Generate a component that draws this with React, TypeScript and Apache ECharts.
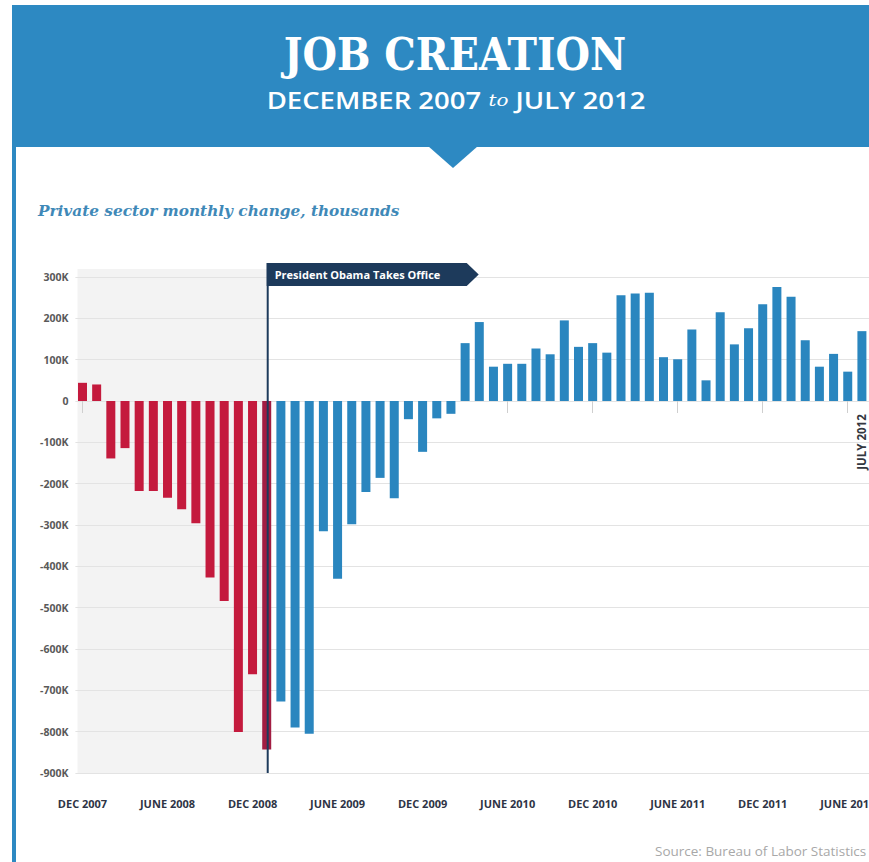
import React, { useEffect, useRef } from "react";
import * as echarts from "echarts";

// ---- data ----
const MONTHS = ["JAN", "FEB", "MAR", "APR", "MAY", "JUNE", "JULY", "AUG", "SEP", "OCT", "NOV", "DEC"];
const categories: string[] = [
  "DEC 2007",
  ...[2008, 2009, 2010, 2011].flatMap((y) => MONTHS.map((m) => `${m} ${y}`)),
  ...MONTHS.slice(0, 7).map((m) => `${m} 2012`),
];
// Private sector monthly change, thousands (Dec 2007 .. Jul 2012)
const privateChange: number[] = [
  44, 40, -139, -114, -218, -218, -234, -262, -296, -427, -484, -801, -661, -843,
  -727, -790, -805, -315, -430, -298, -220, -186, -235, -44, -123, -42, -31,
  140, 191, 83, 90, 90, 127, 113, 195, 131, 140, 117, 256, 260, 262, 106, 101, 173,
  50, 215, 137, 176, 234, 276, 252, 147, 83, 114, 71, 169,
];
const obamaCategory = "JAN 2009";
const lastCategory = "JULY 2012";
const yTicks = { min: -900, max: 300, interval: 100 };

// ---- styles ----
const HEADER_BLUE = "#2d89c2";
const BAR_RED = "#c41a3d";
const BAR_RED_DARK = "#a21d42";
const BAR_BLUE = "#2a86bf";
const NAVY = "#1d3a5b";
const SANS = "'Open Sans', 'Noto Sans', sans-serif";

export default function App() {
  const ref = useRef<HTMLDivElement>(null);

  useEffect(() => {
    const el = ref.current;
    if (!el) return;
    const chart = echarts.init(el, null, { renderer: "svg" });
    const obamaIdx = categories.indexOf(obamaCategory);

    const redData = privateChange.map((v, i) =>
      i < obamaIdx ? v : i === obamaIdx ? { value: v, itemStyle: { color: BAR_RED_DARK } } : "-"
    );
    const blueData = privateChange.map((v, i) => (i > obamaIdx ? v : "-"));

    chart.setOption({
      animation: false,
      backgroundColor: "#ffffff",
      grid: { left: 75.4, right: 0, top: 277, bottom: 89, outerBoundsMode: "none", containLabel: false },
      xAxis: {
        type: "category",
        data: categories,
        boundaryGap: true,
        axisLine: { show: false },
        axisTick: {
          show: true,
          interval: 5,
          alignWithLabel: true,
          length: 12,
          lineStyle: { color: "#cfcfcf", width: 1 },
        },
        axisLabel: {
          interval: 5,
          margin: 25,
          fontFamily: SANS,
          fontWeight: "bold",
          fontSize: 11,
          color: "#2e3445",
        },
        splitLine: { show: false },
      },
      yAxis: {
        type: "value",
        min: yTicks.min,
        max: yTicks.max,
        interval: yTicks.interval,
        axisLine: { show: false },
        axisTick: { show: false },
        axisLabel: {
          margin: 7,
          fontFamily: SANS,
          fontWeight: "bold",
          fontSize: 10.5,
          color: "#5a5a5a",
          formatter: (v: number) => (v === 0 ? "0" : `${v}K`),
        },
        splitLine: { show: true, lineStyle: { color: "#e3e3e3", width: 1 } },
      },
      series: [
        {
          name: "Before",
          type: "bar",
          data: redData,
          barWidth: 9,
          barGap: "-100%",
          itemStyle: { color: BAR_RED },
        },
        {
          name: "After",
          type: "bar",
          data: blueData,
          barWidth: 9,
          barGap: "-100%",
          itemStyle: { color: BAR_BLUE },
        },
      ],
    });

    const [ox] = chart.convertToPixel({ gridIndex: 0 }, [obamaIdx, 0]) as number[];
    const [x0] = chart.convertToPixel({ gridIndex: 0 }, [0, 0]) as number[];
    const [, yTop] = chart.convertToPixel({ gridIndex: 0 }, [0, yTicks.max]) as number[];
    const [, yBot] = chart.convertToPixel({ gridIndex: 0 }, [0, yTicks.min]) as number[];
    const [lx, y0] = chart.convertToPixel({ gridIndex: 0 }, [categories.indexOf(lastCategory), 0]) as number[];

    const flagTop = yTop - 14;
    const flagH = 23;
    const flagW = 200;

    chart.setOption({
      graphic: [
        // header band
        { type: "rect", z: 10, shape: { x: 12, y: 5, width: 857, height: 142 }, style: { fill: HEADER_BLUE } },
        { type: "polygon", z: 10, shape: { points: [[428, 146], [478, 146], [453, 168]] }, style: { fill: HEADER_BLUE } },
        { type: "rect", z: 10, shape: { x: 12, y: 146, width: 4, height: 720 }, style: { fill: HEADER_BLUE } },
        {
          type: "text",
          z: 11,
          x: 455,
          y: 54,
          scaleX: 0.88,
          style: {
            text: "JOB CREATION",
            font: "bold 45px 'DejaVu Serif', serif",
            fill: "#ffffff",
            align: "center",
            verticalAlign: "middle",
            textAlign: "center",
            textVerticalAlign: "middle",
          },
        },
        {
          type: "text",
          z: 11,
          x: 456,
          y: 100,
          scaleX: 1.17,
          style: {
            text: "{a|DECEMBER 2007 }{b|to}{a| JULY 2012}",
            align: "center",
            verticalAlign: "middle",
            textAlign: "center",
            textVerticalAlign: "middle",
            rich: {
              a: { fontFamily: SANS, fontWeight: 600, fontSize: 23.5, fill: "#ffffff", color: "#ffffff" },
              b: {
                fontFamily: "'DejaVu Serif', serif",
                fontStyle: "italic",
                fontSize: 17,
                fill: "#ffffff",
                color: "#ffffff",
              },
            },
          },
        },
        // chart subtitle
        {
          type: "text",
          z: 11,
          x: 38,
          y: 211,
          style: {
            text: "Private sector monthly change, thousands",
            font: "italic bold 15.3px 'DejaVu Serif', serif",
            fill: "#3f89b8",
            align: "left",
            verticalAlign: "middle",
            textAlign: "left",
            textVerticalAlign: "middle",
          },
        },
        // shaded pre-inauguration region
        {
          type: "rect",
          z: -1,
          shape: { x: x0 - 5, y: yTop - 8, width: ox - (x0 - 5), height: yBot - (yTop - 8) },
          style: { fill: "#f3f3f3" },
        },
        // Obama line and flag
        {
          type: "line",
          z: 20,
          shape: { x1: ox + 1, y1: flagTop, x2: ox + 1, y2: yBot },
          style: { stroke: NAVY, lineWidth: 2 },
        },
        {
          type: "polygon",
          z: 20,
          shape: {
            points: [
              [ox, flagTop],
              [ox + flagW, flagTop],
              [ox + flagW + 12, flagTop + flagH / 2],
              [ox + flagW, flagTop + flagH],
              [ox, flagTop + flagH],
            ],
          },
          style: { fill: NAVY },
        },
        {
          type: "text",
          z: 21,
          x: ox + 8,
          y: flagTop + flagH / 2,
          style: {
            text: "President Obama Takes Office",
            font: `bold 11px ${SANS}`,
            fill: "#ffffff",
            align: "left",
            verticalAlign: "middle",
            textAlign: "left",
            textVerticalAlign: "middle",
          },
        },
        // July 2012 marker
        {
          type: "text",
          z: 21,
          x: lx - 0.5,
          y: y0 + 41,
          rotation: Math.PI / 2,
          style: {
            text: "JULY 2012",
            font: `bold 11.5px ${SANS}`,
            fill: "#333740",
            align: "center",
            verticalAlign: "middle",
            textAlign: "center",
            textVerticalAlign: "middle",
          },
        },
        // source
        {
          type: "text",
          z: 11,
          x: 655,
          y: 851,
          scaleX: 1.08,
          style: {
            text: "Source: Bureau of Labor Statistics",
            font: `12.5px ${SANS}`,
            fill: "#a8a8a8",
            align: "left",
            verticalAlign: "middle",
            textAlign: "left",
            textVerticalAlign: "middle",
          },
        },
      ],
    });

    return () => chart.dispose();
  }, []);

  return (
    <div
      style={{
        position: "fixed",
        left: 0,
        top: 0,
        width: 869,
        height: 862,
        overflow: "hidden",
        background: "#ffffff",
      }}
    >
      <div ref={ref} style={{ width: 869, height: 862 }} />
    </div>
  );
}
